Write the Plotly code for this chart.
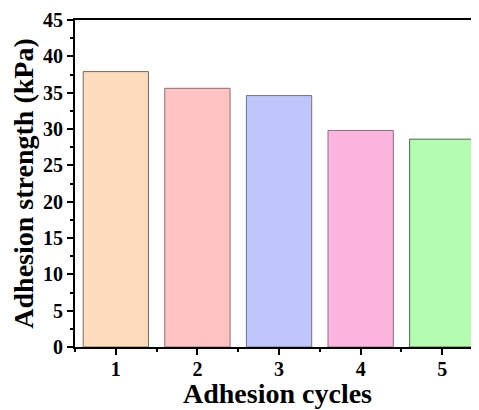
import plotly.graph_objects as go

cycles = [1, 2, 3, 4, 5]
strength = [37.9, 35.6, 34.6, 29.8, 28.6]
fill_colors = ["#FDDCBE", "#FFC3C3", "#BEC6FC", "#FDB4DE", "#B4FDB0"]
line_colors = ["#7a6a5a", "#8a7070", "#70708a", "#8a7080", "#4a6a4a"]
y_ticks = [0, 5, 10, 15, 20, 25, 30, 35, 40, 45]

fig = go.Figure(go.Bar(
    x=cycles, y=strength, width=0.8,
    marker=dict(color=fill_colors, line=dict(color=line_colors, width=1)),
))

font_family = "Liberation Serif"
fig.update_layout(
    width=471, height=402,
    margin=dict(l=67, r=0, t=12, b=63),
    plot_bgcolor="white", paper_bgcolor="white",
    showlegend=False,
    font=dict(family=font_family, color="black"),
)
fig.update_xaxes(
    range=[0.5, 5.45], tickvals=cycles,
    ticktext=[f"<b>{c}</b>" for c in cycles],
    tickfont=dict(size=20, family=font_family),
    ticklabelstandoff=-3,
    showline=True, linecolor="black", linewidth=2, mirror=True,
    ticks="outside", ticklen=6, tickwidth=2, tickcolor="black",
    minor=dict(dtick=0.5, tick0=0.5, ticks="outside", ticklen=3, tickwidth=1.5, tickcolor="black"),
    showgrid=False, zeroline=False,
)
fig.add_annotation(
    text="<b>Adhesion cycles</b>", xref="paper", yref="paper",
    x=0.5, y=0, xanchor="center", yanchor="bottom", yshift=-64,
    showarrow=False, font=dict(size=28, family=font_family, color="black"),
)
fig.update_yaxes(
    range=[0, 45], tickvals=y_ticks,
    ticktext=[f"<b>{v}</b>" for v in y_ticks],
    tickfont=dict(size=20, family=font_family),
    showline=True, linecolor="black", linewidth=2, mirror=False,
    ticks="outside", ticklen=6, tickwidth=2, tickcolor="black",
    minor=dict(dtick=2.5, ticks="outside", ticklen=3, tickwidth=1.5, tickcolor="black"),
    showgrid=False, zeroline=False,
    title=dict(text="<b>Adhesion strength (kPa)</b>", font=dict(size=28, family=font_family), standoff=8),
)

fig.write_html("out.html")
